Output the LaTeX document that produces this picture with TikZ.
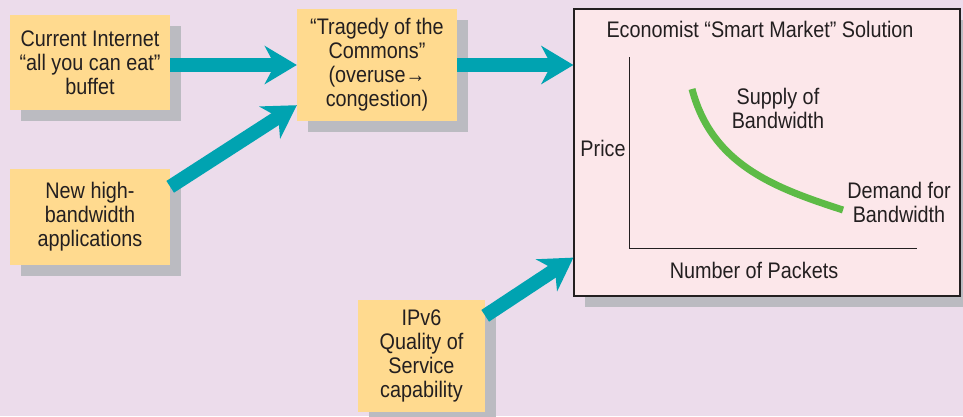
\documentclass[tikz,border=0pt]{standalone}
\usepackage{fontspec}
\setmainfont{Liberation Sans}[FakeStretch=0.88]
\usetikzlibrary{arrows.meta,shadows}

\definecolor{backdrop}{HTML}{ECDCEB}
\definecolor{notefill}{HTML}{FFDA8F}
\definecolor{shadowgray}{HTML}{BBBBC1}
\definecolor{teal}{HTML}{00A3B1}
\definecolor{curvegreen}{HTML}{5DBB46}
\definecolor{marketfill}{HTML}{FCE7EA}
\definecolor{ink}{HTML}{231F20}

\tikzset{
  note/.style={fill=notefill, inner sep=0pt, align=center, text=ink,
    font=\fontsize{22.5}{24}\selectfont,
    general shadow={fill=shadowgray, shadow xshift=11pt, shadow yshift=-11pt}},
  flow/.style={teal, line width=14pt,
    -{Stealth[length=32pt, width=38pt, inset=10pt]}},
  lbl/.style={text=ink, align=center, inner sep=0pt,
    font=\fontsize{22.5}{24}\selectfont}
}

\begin{document}
\begin{tikzpicture}[x=1pt,y=-1pt]
  \fill[backdrop] (0,0) rectangle (963,416);
  \useasboundingbox (0,0) rectangle (963,416);

  % input notes
  \node[note, minimum width=160pt, minimum height=95pt] (cur) at (90,62.5)
    {Current Internet\\“all you can eat”\\buffet};
  \node[note, minimum width=160pt, minimum height=96pt] (app) at (90,217)
    {New high-\\bandwidth\\applications};
  \node[note, minimum width=160pt, minimum height=112pt] (trag) at (377,65)
    {“Tragedy of the\\Commons”\\(overuse→\\congestion)};
  \node[note, minimum width=127pt, minimum height=112pt] (ipv) at (421.5,356)
    {IPv6\\Quality of\\Service\\capability};

  % market panel
  \node[fill=marketfill, draw=ink, line width=1.2pt,
    minimum width=386pt, minimum height=287pt,
    general shadow={fill=shadowgray, shadow xshift=11pt, shadow yshift=-11pt}]
    (market) at (767,152.5) {};

  % arrows
  \draw[flow] (cur.east |- trag.west) -- (trag.west);
  \draw[flow] ([yshift=-18pt]app.north east) -- ([yshift=16pt]trag.south west);
  \draw[flow] (trag.east) -- (trag.east -| market.west);
  \draw[flow] ([yshift=-16pt]ipv.north east) -- ([yshift=39pt]market.south west);

  % chart
  \coordinate (origin) at (629,248);
  \draw[ink, line width=0.9pt] (629,57) -- (origin) -- (917,248);
  \draw[curvegreen, line width=7pt] (692,89) .. controls (712,165) and (775,188) .. (843,210);

  \node[lbl] (title) at (760,29) {Economist “Smart Market” Solution};
  \node[lbl] (price) at (603,148) {Price};
  \node[lbl] (supply) at (778,108) {Supply of\\Bandwidth};
  \node[lbl] (demand) at (899,202) {Demand for\\Bandwidth};
  \node[lbl] (packets) at (754,270) {Number of Packets};
\end{tikzpicture}
\end{document}
